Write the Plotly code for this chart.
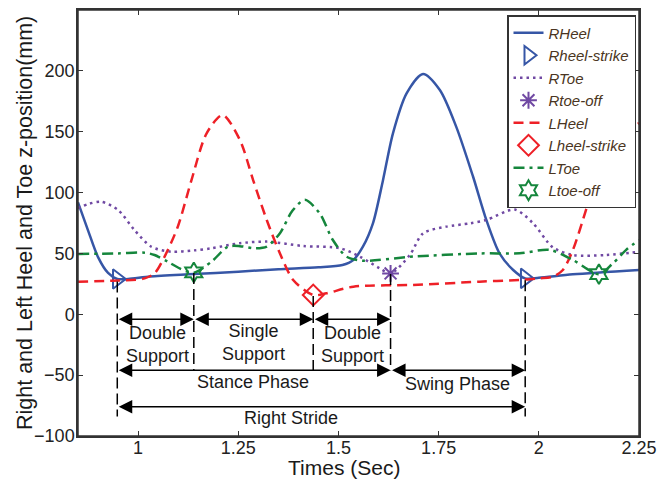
import plotly.graph_objects as go

# ---------------- data ----------------
rheel_x = [0.85, 0.875, 0.90, 0.925, 0.948, 0.975, 1.03, 1.139, 1.25, 1.35, 1.45, 1.51, 1.537,
           1.561, 1.586, 1.611, 1.636, 1.67, 1.711, 1.753, 1.794, 1.836, 1.869, 1.902, 1.936,
           1.966, 2.0, 2.085, 2.25]
rheel_y = [92, 69, 47, 34, 29, 29, 31, 33, 35, 37, 38.6, 40.5, 44.6,
           55.5, 74.7, 110, 148.7, 181.5, 197.5, 184.3, 154, 113, 77.5, 50, 36.4,
           29.5, 30, 32.8, 36.4]

rtoe_x = [0.85, 0.875, 0.908, 0.95, 0.991, 1.033, 1.083, 1.139, 1.183, 1.254, 1.321, 1.412,
          1.504, 1.553, 1.603, 1.63, 1.678, 1.711, 1.769, 1.828, 1.869, 1.94, 1.985, 2.035,
          2.085, 2.168, 2.25]
rtoe_y = [87, 90.5, 92.5, 85.7, 69.2, 55.5, 51.4, 52.5, 54.2, 58.4, 59.7, 56.1,
          54.3, 47.4, 37.8, 33.6, 48.7, 66.5, 72, 74.7, 77.5, 86, 75, 55,
          48.7, 48.7, 51.4]

lheel_x = [0.85, 0.933, 1.0, 1.016, 1.041, 1.066, 1.099, 1.133, 1.171, 1.211, 1.254, 1.287,
           1.321, 1.354, 1.387, 1.437, 1.47, 1.537, 1.686, 1.852, 1.952, 2.002, 2.035, 2.06,
           2.085, 2.11, 2.131, 2.16, 2.19, 2.22, 2.25]
lheel_y = [26.8, 27.6, 28.5, 29.5, 33.6, 47.3, 71.9, 110, 148.7, 163.7, 143.2, 110.3,
           77.5, 50, 28.2, 15.8, 17.2, 22.7, 24.1, 26.8, 28.2, 29.5, 30.9, 36.4,
           52.8, 77.5, 99.4, 122, 140, 151, 157]

ltoe_x = [0.85, 0.95, 1.016, 1.041, 1.074, 1.105, 1.139, 1.183, 1.224, 1.254, 1.291, 1.321,
          1.354, 1.385, 1.416, 1.453, 1.486, 1.52, 1.561, 1.686, 1.852, 1.952, 2.027, 2.085,
          2.15, 2.185, 2.218, 2.25]
ltoe_y = [49.6, 50, 50.6, 48.7, 43.2, 37.5, 34.2, 43.2, 55.5, 56, 54.2, 55.6,
          66.6, 85, 94, 83, 61, 47.4, 44, 47.4, 50, 50.1, 52.9, 44.6,
          33, 41.9, 52.9, 61]

rheel_strike_x = [0.948, 1.966]
rheel_strike_y = [29, 29.5]
rtoe_off_x = [1.63]
rtoe_off_y = [33.6]
lheel_strike_x = [1.437]
lheel_strike_y = [15.8]
ltoe_off_x = [1.139, 2.15]
ltoe_off_y = [34.4, 33]

# gait events for the phase annotations
event_t = [0.948, 1.139, 1.437, 1.63, 1.966]
event_top = [27, 34, 15, 33, 28]
event_bottom = [-84, -46, -46, -46, -84]

support_y = -4
phase_y = -46
stride_y = -76

labels = ["Double<br>Support", "Single<br>Support", "Double<br>Support",
          "Stance Phase", "Swing Phase", "Right Stride"]
label_x = [1.0495, 1.288, 1.5345, 1.286, 1.797, 1.381]
label_y = [-25, -23.2, -25, -55.4, -57.3, -85.5]

xticks = [1, 1.25, 1.5, 1.75, 2, 2.25]
xtick_text = ["1", "1.25", "1.5", "1.75", "2", "2.25"]
yticks = [-100, -50, 0, 50, 100, 150, 200, 250]

# ---------------- styles ----------------
BLUE = "#3656a6"
PURPLE = "#7049a3"
RED = "#ee2027"
GREEN = "#15863c"
FONT = "Liberation Sans, Arial, sans-serif"

fig = go.Figure()

fig.add_trace(go.Scatter(x=rheel_x, y=rheel_y, mode="lines", name="RHeel",
                         line=dict(color=BLUE, width=2.5, shape="spline", smoothing=0.8)))
fig.add_trace(go.Scatter(x=rheel_strike_x, y=rheel_strike_y, mode="markers", name="Rheel-strike",
                         marker=dict(symbol="triangle-right-open", size=17, color=BLUE,
                                     line=dict(width=2, color=BLUE))))
fig.add_trace(go.Scatter(x=rtoe_x, y=rtoe_y, mode="lines", name="RToe",
                         line=dict(color=PURPLE, width=2.5, dash="2.5px,4px", shape="spline", smoothing=0.8)))
fig.add_trace(go.Scatter(x=rtoe_off_x, y=rtoe_off_y, mode="markers", name="Rtoe-off",
                         marker=dict(symbol="asterisk-open", size=14, color=PURPLE,
                                     line=dict(width=2, color=PURPLE))))
fig.add_trace(go.Scatter(x=lheel_x, y=lheel_y, mode="lines", name="LHeel",
                         line=dict(color=RED, width=2.5, dash="10px,6px", shape="spline", smoothing=0.8)))
fig.add_trace(go.Scatter(x=lheel_strike_x, y=lheel_strike_y, mode="markers", name="Lheel-strike",
                         marker=dict(symbol="diamond-open", size=16, color=RED,
                                     line=dict(width=2, color=RED))))
fig.add_trace(go.Scatter(x=ltoe_x, y=ltoe_y, mode="lines", name="LToe",
                         line=dict(color=GREEN, width=2.5, dash="11px,5px,3px,5px", shape="spline", smoothing=0.8)))
fig.add_trace(go.Scatter(x=ltoe_off_x, y=ltoe_off_y, mode="markers", name="Ltoe-off",
                         marker=dict(symbol="hexagram-open", size=15, color=GREEN,
                                     line=dict(width=2, color=GREEN))))

# vertical dashed event lines
vx, vy = [], []
for t, top, bot in zip(event_t, event_top, event_bottom):
    vx += [t, t, None]
    vy += [top, bot, None]
fig.add_trace(go.Scatter(x=vx, y=vy, mode="lines", showlegend=False, hoverinfo="skip",
                         line=dict(color="black", width=1.5, dash="11px,5px")))

# phase arrows
arrows = [
    (event_t[0], event_t[1], support_y),
    (event_t[1], event_t[2], support_y),
    (event_t[2], event_t[3], support_y),
    (event_t[0], event_t[3], phase_y),
    (event_t[3], event_t[4], phase_y),
    (event_t[0], event_t[4], stride_y),
]
annotations = []
for x0, x1, yy in arrows:
    annotations.append(dict(x=x1, y=yy, ax=x0, ay=yy, xref="x", yref="y", axref="x", ayref="y",
                            text="", showarrow=True, arrowhead=2, arrowside="end+start",
                            arrowsize=1.8, arrowwidth=1.5, arrowcolor="black",
                            standoff=0, startstandoff=0))
for txt, lx, ly in zip(labels, label_x, label_y):
    annotations.append(dict(x=lx, y=ly, xref="x", yref="y", text=txt, showarrow=False,
                            font=dict(family=FONT, size=18, color="#1a1a1a"),
                            xanchor="center", yanchor="middle"))

# page body has an 8px margin; plot area target on page: x 78..639, y 10..436
OFF = 8
PL, PR, PT, PB = 78 - OFF, 639 - OFF, 10 - OFF, 436 - OFF
W, H = 672 - OFF, 481 - OFF
pw, ph = PR - PL, PB - PT

# axis titles
annotations.append(dict(x=(343.5 - OFF - PL) / pw, y=(PB - (467 - OFF)) / ph, xref="paper", yref="paper",
                        text="Times (Sec)", showarrow=False, xanchor="center", yanchor="middle",
                        font=dict(family=FONT, size=21, color="#1a1a1a")))
annotations.append(dict(x=(25 - OFF - PL) / pw, y=0.5, xref="paper", yref="paper",
                        text="Right and Left Heel and Toe z-position(mm)", textangle=-90,
                        showarrow=False, xanchor="center", yanchor="middle",
                        font=dict(family=FONT, size=21.5, color="#1a1a1a")))

axis_common = dict(showline=True, linecolor="#333333", linewidth=1.5, mirror="ticks",
                   ticks="inside", ticklen=5, tickwidth=1, tickcolor="#333333",
                   showgrid=False, zeroline=False, automargin=False,
                   tickfont=dict(family=FONT, size=18, color="#222222"))

fig.update_layout(
    width=W, height=H,
    margin=dict(l=PL, r=W - PR, t=PT, b=H - PB, autoexpand=False),
    paper_bgcolor="white", plot_bgcolor="white",
    xaxis=dict(range=[0.85, 2.25], tickvals=xticks, ticktext=xtick_text,
               ticklabelstandoff=-5, **axis_common),
    yaxis=dict(range=[-100, 250], tickvals=yticks, ticklabelstandoff=-2, **axis_common),
    legend=dict(x=(636 - OFF - PL) / pw, y=(PB - (15 - OFF)) / ph, xanchor="right", yanchor="top",
                bgcolor="white", bordercolor="#333333", borderwidth=1.5,
                font=dict(family=FONT, size=15, color="#4a3522", style="italic"),
                tracegroupgap=0, itemwidth=30),
    shapes=[dict(type="rect", xref="paper", yref="paper", x0=0, x1=1, y0=0, y1=1,
                 line=dict(color="#333333", width=1.5), layer="above")],
    annotations=annotations,
    showlegend=True,
)

fig.write_html("out.html")
